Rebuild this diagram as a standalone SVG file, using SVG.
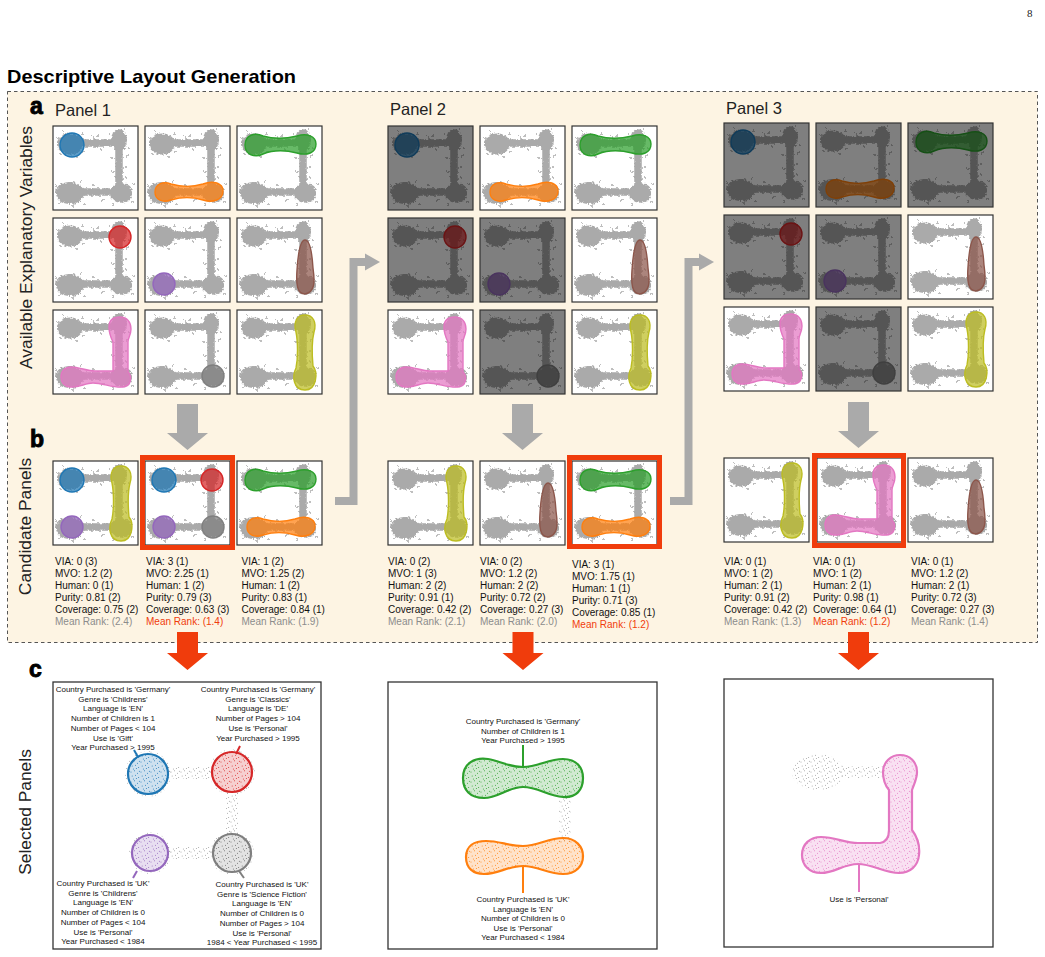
<svg xmlns="http://www.w3.org/2000/svg" xmlns:xlink="http://www.w3.org/1999/xlink" width="1045" height="957" viewBox="0 0 1045 957">
<style>
text{font-family:"Liberation Sans",Arial,sans-serif;fill:#222}
.ttl{font-size:19px;font-weight:bold;fill:#000}
.big{font-size:23px;font-weight:bold;fill:#000;stroke:#000;stroke-width:0.9}
.pl{font-size:16.5px}
.rot{font-size:17.4px;text-anchor:middle}
.m{font-size:10px;fill:#111}
.mg{fill:#8c8c8c}
.mr{fill:#f03c0c}
.lb{font-size:8px;text-anchor:middle;fill:#111}
.tb{fill:#fff}
.tk{fill:none;stroke:#333;stroke-width:1.2}
.dk{fill:#000;fill-opacity:.5}
.sh{fill-opacity:.72;stroke-width:1.4}
.cb{fill:#1f77b4;stroke:#1f77b4}
.co{fill:#ff7f0e;stroke:#ff7f0e}
.cg{fill:#2ca02c;stroke:#2ca02c}
.cr{fill:#d62728;stroke:#d62728}
.cp{fill:#9467bd;stroke:#9467bd}
.cn{fill:#8c564b;stroke:#8c564b}
.ck{fill:#e377c2;stroke:#e377c2}
.cy{fill:#7f7f7f;stroke:#7f7f7f}
.cl{fill:#bcbd22;stroke:#bcbd22}
.sel{fill:none;stroke:#f03c0c;stroke-width:5}
.garr{fill:#aaa}
.gl{fill:none;stroke:#aaa;stroke-width:8}
.rarr{fill:#f03c0c}
.pan{fill:#fff;stroke:#333;stroke-width:1.3}
.big-sh{stroke-width:2.2;fill:none}
.ld{stroke-width:2;fill:none}
</style>
<defs>
<filter id="rough" x="-15%" y="-15%" width="130%" height="130%">
<feTurbulence type="fractalNoise" baseFrequency="0.4" numOctaves="2" seed="3" result="n"/>
<feDisplacementMap in="SourceGraphic" in2="n" scale="4" xChannelSelector="R" yChannelSelector="G"/>
</filter>
<g id="sc" filter="url(#rough)" fill="#aaa">
<path d="M14,17 H66 V66 M14,66 H74" stroke="#aaa" stroke-width="7.5" fill="none" stroke-linecap="round"/>
<ellipse cx="17" cy="18" rx="13" ry="10.5"/>
<ellipse cx="66" cy="14" rx="8" ry="11"/>
<ellipse cx="17" cy="67" rx="14" ry="11"/>
<ellipse cx="68" cy="67" rx="11" ry="10"/>
<g>
<circle cx="5" cy="12" r="1"/><circle cx="8" cy="28" r="1"/><circle cx="29" cy="8" r="1"/><circle cx="31" cy="26" r="1"/><circle cx="40" cy="11" r="1"/><circle cx="48" cy="23" r="1"/><circle cx="56" cy="8" r="1"/><circle cx="72" cy="3" r="1"/><circle cx="76" cy="22" r="1"/><circle cx="74" cy="30" r="1"/><circle cx="59" cy="32" r="1"/><circle cx="73" cy="41" r="1"/><circle cx="60" cy="46" r="1"/><circle cx="73" cy="52" r="1"/><circle cx="3" cy="60" r="1"/><circle cx="6" cy="77" r="1"/><circle cx="28" cy="56" r="1"/><circle cx="31" cy="78" r="1"/><circle cx="40" cy="59" r="1"/><circle cx="50" cy="74" r="1"/><circle cx="80" cy="58" r="1"/><circle cx="80" cy="76" r="1"/><circle cx="60" cy="79" r="1"/><circle cx="45" cy="10" r="1"/><circle cx="24" cy="31" r="1"/><circle cx="10" cy="5" r="1"/><circle cx="20" cy="80" r="1"/>
</g>
</g>
<circle id="s-blue" cx="19" cy="19" r="12"/>
<circle id="s-red" cx="67" cy="19" r="11"/>
<circle id="s-purple" cx="19" cy="66" r="11"/>
<circle id="s-gray" cx="68" cy="66" r="11"/>
<path id="s-orange" d="M10,66 C10,58 18,55 26,58 C36,61 48,61 58,58 C68,54 78,57 78,65 C78,74 68,77 58,74 C48,71 36,71 26,74 C18,77 10,74 10,66 Z"/>
<path id="s-green" d="M8,19 C8,9 18,6 26,10 C36,13 48,13 60,10 C70,7 79,10 79,18 C79,27 70,30 60,27 C48,24 36,24 26,28 C18,32 8,29 8,19 Z"/>
<path id="s-brown" d="M68,22 C73,22 75,34 76,50 C78,64 78,74 68,76 C60,76 59,66 60,52 C61,36 63,22 68,22 Z"/>
<path id="s-olive" d="M68,5 C76,5 80,12 77,22 C75,30 75,45 76,56 C81,62 80,80 68,80 C56,80 55,66 59,58 C61,48 61,32 59,22 C56,12 60,5 68,5 Z"/>
<path id="s-pink" d="M56,17 C56,9 62,7 67,7 C74,7 78,12 78,19 C78,25 75,28 75,32 L75,62 C79,66 79,76 70,77 C60,78 50,73 40,73 C32,73 26,78 17,77 C10,76 8,71 8,67 C8,61 12,57 18,57 C26,57 34,61 42,61 L60,61 L60,32 C58,28 56,24 56,17 Z"/>
<path id="g2p" d="M463,778 C463,763 475,757 488,759 C500,761 508,767 523,767 C538,767 548,759 563,759 C577,759 583,768 583,778 C583,790 576,798 563,797 C548,796 538,787 523,787 C508,787 498,798 484,798 C470,798 463,790 463,778 Z"/>
<path id="o2p" d="M466,857 C466,846 474,841 486,841 C500,841 508,846 523,846 C538,846 548,838 563,838 C576,838 583,847 583,856 C583,866 576,874 563,874 C548,874 538,866 523,866 C508,866 498,874 484,874 C473,874 466,868 466,857 Z"/>
<path id="k3p" d="M889,790 C884,784 883,779 883,772 C883,762 891,755 900,755 C910,755 917,762 917,772 C917,779 914,784 912,790 L912,830 C918,838 920,846 919,855 C918,866 910,873 899,873 C885,873 872,864 858,864 C843,864 835,873 821,873 C809,873 802,865 802,855 C802,844 810,837 821,837 C835,837 845,843 858,843 L880,843 C886,842 889,838 889,830 Z"/>
<g id="dt">
<circle cx="1" cy="2" r="0.5"/><circle cx="4.5" cy="0.8" r="0.5"/><circle cx="7.5" cy="3.2" r="0.5"/><circle cx="2.2" cy="6" r="0.5"/><circle cx="5.5" cy="5.2" r="0.5"/><circle cx="8.6" cy="7.4" r="0.5"/><circle cx="3.4" cy="9" r="0.5"/><circle cx="6.4" cy="8.6" r="0.5"/><circle cx="9.4" cy="1.2" r="0.5"/>
</g>
<pattern id="pgr" width="10" height="10" patternUnits="userSpaceOnUse"><use href="#dt" fill="#9a9a9a"/></pattern>
<pattern id="pbl" width="10" height="10" patternUnits="userSpaceOnUse"><use href="#dt" fill="#1f77b4"/></pattern>
<pattern id="pre" width="10" height="10" patternUnits="userSpaceOnUse"><use href="#dt" fill="#d62728"/></pattern>
<pattern id="ppu" width="10" height="10" patternUnits="userSpaceOnUse"><use href="#dt" fill="#9467bd"/></pattern>
<pattern id="pdk" width="10" height="10" patternUnits="userSpaceOnUse"><use href="#dt" fill="#666"/></pattern>
<pattern id="pgn" width="10" height="10" patternUnits="userSpaceOnUse"><use href="#dt" fill="#2ca02c"/></pattern>
<pattern id="por" width="10" height="10" patternUnits="userSpaceOnUse"><use href="#dt" fill="#ff7f0e"/></pattern>
<pattern id="ppk" width="10" height="10" patternUnits="userSpaceOnUse"><use href="#dt" fill="#e377c2"/></pattern>
</defs>

<rect width="1045" height="957" fill="#fff"/>
<text x="1027" y="17" style="font-family:'Liberation Serif',serif;font-size:11px">8</text>
<text class="ttl" x="7" y="83" textLength="289" lengthAdjust="spacingAndGlyphs">Descriptive Layout Generation</text>
<rect x="7.5" y="91.5" width="1030" height="551" fill="#fdf4e3" stroke="#555" stroke-width="1" stroke-dasharray="3.5 3"/>

<text class="big" x="30" y="114">a</text>
<text class="big" x="30" y="447">b</text>
<text class="big" x="29" y="677">c</text>
<text class="pl" x="55" y="116">Panel 1</text>
<text class="pl" x="390" y="115">Panel 2</text>
<text class="pl" x="726" y="114">Panel 3</text>
<text class="rot" transform="translate(32,247.5) rotate(-90)">Available Explanatory Variables</text>
<text class="rot" transform="translate(31,526.5) rotate(-90)">Candidate Panels</text>
<text class="rot" transform="translate(31,812) rotate(-90)">Selected Panels</text>

<g id="connectors">
<path class="garr" d="M177,404 H198 V433 H208 L187.5,450 L167,433 H177 Z"/>
<path class="garr" d="M512,404 H533 V433 H543 L522.5,450 L502,433 H512 Z"/>
<path class="garr" d="M848,402 H869 V431 H879 L858.5,448 L838,431 H848 Z"/>
<path class="gl" d="M335,501 H353.5 V262 H367"/>
<path class="garr" d="M365,253.5 L380,262 L365,270.5 Z"/>
<path class="gl" d="M670,501 H688.5 V262 H701"/>
<path class="garr" d="M699,253.5 L714,262 L699,270.5 Z"/>
<path class="rarr" d="M177,632 H198 V653 H208 L187.5,670 L167,653 H177 Z"/>
<path class="rarr" d="M512.5,632 H533.5 V653 H543.5 L523,670 L502.5,653 H512.5 Z"/>
<path class="rarr" d="M848,632 H869 V653 H879 L858.5,670 L838,653 H848 Z"/>
</g>

<g id="panel1-grid">
<g id="p1-a1" transform="translate(53,126)"><rect class="tb" width="85" height="84"/><use href="#sc"/><use href="#s-blue" class="sh cb"/><rect class="tk" width="85" height="84"/></g>
<g id="p1-a2" transform="translate(145,126)"><rect class="tb" width="85" height="84"/><use href="#sc"/><use href="#s-orange" class="sh co"/><rect class="tk" width="85" height="84"/></g>
<g id="p1-a3" transform="translate(237,126)"><rect class="tb" width="85" height="84"/><use href="#sc"/><use href="#s-green" class="sh cg"/><rect class="tk" width="85" height="84"/></g>
<g id="p1-b1" transform="translate(53,218)"><rect class="tb" width="85" height="84"/><use href="#sc"/><use href="#s-red" class="sh cr"/><rect class="tk" width="85" height="84"/></g>
<g id="p1-b2" transform="translate(145,218)"><rect class="tb" width="85" height="84"/><use href="#sc"/><use href="#s-purple" class="sh cp"/><rect class="tk" width="85" height="84"/></g>
<g id="p1-b3" transform="translate(237,218)"><rect class="tb" width="85" height="84"/><use href="#sc"/><use href="#s-brown" class="sh cn"/><rect class="tk" width="85" height="84"/></g>
<g id="p1-c1" transform="translate(53,310)"><rect class="tb" width="85" height="84"/><use href="#sc"/><use href="#s-pink" class="sh ck"/><rect class="tk" width="85" height="84"/></g>
<g id="p1-c2" transform="translate(145,310)"><rect class="tb" width="85" height="84"/><use href="#sc"/><use href="#s-gray" class="sh cy"/><rect class="tk" width="85" height="84"/></g>
<g id="p1-c3" transform="translate(237,310)"><rect class="tb" width="85" height="84"/><use href="#sc"/><use href="#s-olive" class="sh cl"/><rect class="tk" width="85" height="84"/></g>
</g>

<g id="panel2-grid">
<g id="p2-a1" transform="translate(388,126)"><rect class="tb" width="85" height="84"/><use href="#sc"/><use href="#s-blue" class="sh cb"/><rect class="dk" width="85" height="84"/><rect class="tk" width="85" height="84"/></g>
<g id="p2-a2" transform="translate(480,126)"><rect class="tb" width="85" height="84"/><use href="#sc"/><use href="#s-orange" class="sh co"/><rect class="tk" width="85" height="84"/></g>
<g id="p2-a3" transform="translate(572,126)"><rect class="tb" width="85" height="84"/><use href="#sc"/><use href="#s-green" class="sh cg"/><rect class="tk" width="85" height="84"/></g>
<g id="p2-b1" transform="translate(388,218)"><rect class="tb" width="85" height="84"/><use href="#sc"/><use href="#s-red" class="sh cr"/><rect class="dk" width="85" height="84"/><rect class="tk" width="85" height="84"/></g>
<g id="p2-b2" transform="translate(480,218)"><rect class="tb" width="85" height="84"/><use href="#sc"/><use href="#s-purple" class="sh cp"/><rect class="dk" width="85" height="84"/><rect class="tk" width="85" height="84"/></g>
<g id="p2-b3" transform="translate(572,218)"><rect class="tb" width="85" height="84"/><use href="#sc"/><use href="#s-brown" class="sh cn"/><rect class="tk" width="85" height="84"/></g>
<g id="p2-c1" transform="translate(388,310)"><rect class="tb" width="85" height="84"/><use href="#sc"/><use href="#s-pink" class="sh ck"/><rect class="tk" width="85" height="84"/></g>
<g id="p2-c2" transform="translate(480,310)"><rect class="tb" width="85" height="84"/><use href="#sc"/><use href="#s-gray" class="sh cy"/><rect class="dk" width="85" height="84"/><rect class="tk" width="85" height="84"/></g>
<g id="p2-c3" transform="translate(572,310)"><rect class="tb" width="85" height="84"/><use href="#sc"/><use href="#s-olive" class="sh cl"/><rect class="tk" width="85" height="84"/></g>
</g>

<g id="panel3-grid">
<g id="p3-a1" transform="translate(724,123)"><rect class="tb" width="85" height="84"/><use href="#sc"/><use href="#s-blue" class="sh cb"/><rect class="dk" width="85" height="84"/><rect class="tk" width="85" height="84"/></g>
<g id="p3-a2" transform="translate(816,123)"><rect class="tb" width="85" height="84"/><use href="#sc"/><use href="#s-orange" class="sh co"/><rect class="dk" width="85" height="84"/><rect class="tk" width="85" height="84"/></g>
<g id="p3-a3" transform="translate(908,123)"><rect class="tb" width="85" height="84"/><use href="#sc"/><use href="#s-green" class="sh cg"/><rect class="dk" width="85" height="84"/><rect class="tk" width="85" height="84"/></g>
<g id="p3-b1" transform="translate(724,215)"><rect class="tb" width="85" height="84"/><use href="#sc"/><use href="#s-red" class="sh cr"/><rect class="dk" width="85" height="84"/><rect class="tk" width="85" height="84"/></g>
<g id="p3-b2" transform="translate(816,215)"><rect class="tb" width="85" height="84"/><use href="#sc"/><use href="#s-purple" class="sh cp"/><rect class="dk" width="85" height="84"/><rect class="tk" width="85" height="84"/></g>
<g id="p3-b3" transform="translate(908,215)"><rect class="tb" width="85" height="84"/><use href="#sc"/><use href="#s-brown" class="sh cn"/><rect class="tk" width="85" height="84"/></g>
<g id="p3-c1" transform="translate(724,307)"><rect class="tb" width="85" height="84"/><use href="#sc"/><use href="#s-pink" class="sh ck"/><rect class="tk" width="85" height="84"/></g>
<g id="p3-c2" transform="translate(816,307)"><rect class="tb" width="85" height="84"/><use href="#sc"/><use href="#s-gray" class="sh cy"/><rect class="dk" width="85" height="84"/><rect class="tk" width="85" height="84"/></g>
<g id="p3-c3" transform="translate(908,307)"><rect class="tb" width="85" height="84"/><use href="#sc"/><use href="#s-olive" class="sh cl"/><rect class="tk" width="85" height="84"/></g>
</g>

<g id="cand1-1" transform="translate(53,461)"><rect class="tb" width="85" height="84"/><use href="#sc"/><use href="#s-blue" class="sh cb"/><use href="#s-olive" class="sh cl"/><use href="#s-purple" class="sh cp"/><rect class="tk" width="85" height="84"/></g>
<g id="cand1-2" transform="translate(145,461)"><rect class="tb" width="85" height="84"/><use href="#sc"/><use href="#s-blue" class="sh cb"/><use href="#s-red" class="sh cr"/><use href="#s-purple" class="sh cp"/><use href="#s-gray" class="sh cy"/><rect class="tk" width="85" height="84"/></g>
<rect class="sel" x="142.5" y="457.5" width="90" height="90"/>
<g id="cand1-3" transform="translate(237,461)"><rect class="tb" width="85" height="84"/><use href="#sc"/><use href="#s-green" class="sh cg"/><use href="#s-orange" class="sh co"/><rect class="tk" width="85" height="84"/></g>

<g id="cand2-1" transform="translate(388,461)"><rect class="tb" width="85" height="84"/><use href="#sc"/><use href="#s-olive" class="sh cl"/><rect class="tk" width="85" height="84"/></g>
<g id="cand2-2" transform="translate(480,461)"><rect class="tb" width="85" height="84"/><use href="#sc"/><use href="#s-brown" class="sh cn"/><rect class="tk" width="85" height="84"/></g>
<g id="cand2-3" transform="translate(572,461)"><rect class="tb" width="85" height="84"/><use href="#sc"/><use href="#s-green" class="sh cg"/><use href="#s-orange" class="sh co"/><rect class="tk" width="85" height="84"/></g>
<rect class="sel" x="569.5" y="457.5" width="90" height="89"/>

<g id="cand3-1" transform="translate(724,458)"><rect class="tb" width="85" height="84"/><use href="#sc"/><use href="#s-olive" class="sh cl"/><rect class="tk" width="85" height="84"/></g>
<g id="cand3-2" transform="translate(817,458)"><rect class="tb" width="85" height="84"/><use href="#sc"/><use href="#s-pink" class="sh ck"/><rect class="tk" width="85" height="84"/></g>
<rect class="sel" x="814.5" y="455.5" width="89" height="90"/>
<g id="cand3-3" transform="translate(908,458)"><rect class="tb" width="85" height="84"/><use href="#sc"/><use href="#s-brown" class="sh cn"/><rect class="tk" width="85" height="84"/></g>

<g id="metrics">
<text class="m" y="565"><tspan x="55">VIA: 0 (3)</tspan><tspan x="55" dy="12">MVO: 1.2 (2)</tspan><tspan x="55" dy="12">Human: 0 (1)</tspan><tspan x="55" dy="12">Purity: 0.81 (2)</tspan><tspan x="55" dy="12">Coverage: 0.75 (2)</tspan><tspan x="55" dy="12" class="mg">Mean Rank: (2.4)</tspan></text>
<text class="m" y="565"><tspan x="146">VIA: 3 (1)</tspan><tspan x="146" dy="12">MVO: 2.25 (1)</tspan><tspan x="146" dy="12">Human: 1 (2)</tspan><tspan x="146" dy="12">Purity: 0.79 (3)</tspan><tspan x="146" dy="12">Coverage: 0.63 (3)</tspan><tspan x="146" dy="12" class="mr">Mean Rank: (1.4)</tspan></text>
<text class="m" y="565"><tspan x="241.5">VIA: 1 (2)</tspan><tspan x="241.5" dy="12">MVO: 1.25 (2)</tspan><tspan x="241.5" dy="12">Human: 1 (2)</tspan><tspan x="241.5" dy="12">Purity: 0.83 (1)</tspan><tspan x="241.5" dy="12">Coverage: 0.84 (1)</tspan><tspan x="241.5" dy="12" class="mg">Mean Rank: (1.9)</tspan></text>
<text class="m" y="565"><tspan x="388">VIA: 0 (2)</tspan><tspan x="388" dy="12">MVO: 1 (3)</tspan><tspan x="388" dy="12">Human: 2 (2)</tspan><tspan x="388" dy="12">Purity: 0.91 (1)</tspan><tspan x="388" dy="12">Coverage: 0.42 (2)</tspan><tspan x="388" dy="12" class="mg">Mean Rank: (2.1)</tspan></text>
<text class="m" y="565"><tspan x="480">VIA: 0 (2)</tspan><tspan x="480" dy="12">MVO: 1.2 (2)</tspan><tspan x="480" dy="12">Human: 2 (2)</tspan><tspan x="480" dy="12">Purity: 0.72 (2)</tspan><tspan x="480" dy="12">Coverage: 0.27 (3)</tspan><tspan x="480" dy="12" class="mg">Mean Rank: (2.0)</tspan></text>
<text class="m" y="567.5"><tspan x="572">VIA: 3 (1)</tspan><tspan x="572" dy="12">MVO: 1.75 (1)</tspan><tspan x="572" dy="12">Human: 1 (1)</tspan><tspan x="572" dy="12">Purity: 0.71 (3)</tspan><tspan x="572" dy="12">Coverage: 0.85 (1)</tspan><tspan x="572" dy="12" class="mr">Mean Rank: (1.2)</tspan></text>
<text class="m" y="565"><tspan x="724">VIA: 0 (1)</tspan><tspan x="724" dy="12">MVO: 1 (2)</tspan><tspan x="724" dy="12">Human: 2 (1)</tspan><tspan x="724" dy="12">Purity: 0.91 (2)</tspan><tspan x="724" dy="12">Coverage: 0.42 (2)</tspan><tspan x="724" dy="12" class="mg">Mean Rank: (1.3)</tspan></text>
<text class="m" y="565"><tspan x="813">VIA: 0 (1)</tspan><tspan x="813" dy="12">MVO: 1 (2)</tspan><tspan x="813" dy="12">Human: 2 (1)</tspan><tspan x="813" dy="12">Purity: 0.98 (1)</tspan><tspan x="813" dy="12">Coverage: 0.64 (1)</tspan><tspan x="813" dy="12" class="mr">Mean Rank: (1.2)</tspan></text>
<text class="m" y="565"><tspan x="911">VIA: 0 (1)</tspan><tspan x="911" dy="12">MVO: 1.2 (2)</tspan><tspan x="911" dy="12">Human: 2 (1)</tspan><tspan x="911" dy="12">Purity: 0.72 (3)</tspan><tspan x="911" dy="12">Coverage: 0.27 (3)</tspan><tspan x="911" dy="12" class="mg">Mean Rank: (1.4)</tspan></text>
</g>

<g id="selected1">
<rect class="pan" x="53" y="682" width="268" height="267"/>
<path d="M166,767 H214 V779 H166 Z M226,790 H238 V838 H226 Z M167,847 H213 V859 H167 Z" fill="url(#pgr)"/>
<circle cx="148" cy="774" r="23" fill="url(#pgr)"/>
<circle cx="232" cy="772" r="23" fill="url(#pgr)"/>
<circle cx="150" cy="853" r="21" fill="url(#pgr)"/>
<circle cx="232" cy="853" r="22" fill="url(#pgr)"/>
<circle cx="148" cy="774" r="20" fill="#fff"/><circle cx="148" cy="774" r="20" fill="#1f77b4" fill-opacity=".22"/><circle cx="148" cy="774" r="20" fill="url(#pbl)"/><circle cx="148" cy="774" r="20" class="cb big-sh"/>
<circle cx="232" cy="772" r="20" fill="#fff"/><circle cx="232" cy="772" r="20" fill="#d62728" fill-opacity=".22"/><circle cx="232" cy="772" r="20" fill="url(#pre)"/><circle cx="232" cy="772" r="20" class="cr big-sh"/>
<circle cx="150" cy="853" r="18" fill="#fff"/><circle cx="150" cy="853" r="18" fill="#9467bd" fill-opacity=".22"/><circle cx="150" cy="853" r="18" fill="url(#ppu)"/><circle cx="150" cy="853" r="18" class="cp big-sh"/>
<circle cx="232" cy="853" r="19" fill="#fff"/><circle cx="232" cy="853" r="19" fill="#7f7f7f" fill-opacity=".22"/><circle cx="232" cy="853" r="19" fill="url(#pdk)"/><circle cx="232" cy="853" r="19" class="cy big-sh"/>
<path d="M134,750 L138,757" class="cb ld"/>
<path d="M240,746 L236,754" class="cr ld"/>
<path d="M137,871 L133,878" class="cp ld"/>
<path d="M239,871 L244,878" class="cy ld"/>
<text class="lb" y="692"><tspan x="113">Country Purchased is 'Germany'</tspan><tspan x="113" dy="9.7">Genre is 'Childrens'</tspan><tspan x="113" dy="9.7">Language is 'EN'</tspan><tspan x="113" dy="9.7">Number of Children is 1</tspan><tspan x="113" dy="9.7">Number of Pages &lt; 104</tspan><tspan x="113" dy="9.7">Use is 'Gift'</tspan><tspan x="113" dy="9.7">Year Purchased &gt; 1995</tspan></text>
<text class="lb" y="692"><tspan x="258">Country Purchased is 'Germany'</tspan><tspan x="258" dy="9.7">Genre is 'Classics'</tspan><tspan x="258" dy="9.7">Language is 'DE'</tspan><tspan x="258" dy="9.7">Number of Pages &gt; 104</tspan><tspan x="258" dy="9.7">Use is 'Personal'</tspan><tspan x="258" dy="9.7">Year Purchased &gt; 1995</tspan></text>
<text class="lb" y="886"><tspan x="103">Country Purchased is 'UK'</tspan><tspan x="103" dy="9.7">Genre is 'Childrens'</tspan><tspan x="103" dy="9.7">Language is 'EN'</tspan><tspan x="103" dy="9.7">Number of Children is 0</tspan><tspan x="103" dy="9.7">Number of Pages &lt; 104</tspan><tspan x="103" dy="9.7">Use is 'Personal'</tspan><tspan x="103" dy="9.7">Year Purchased &lt; 1984</tspan></text>
<text class="lb" y="887"><tspan x="262">Country Purchased is 'UK'</tspan><tspan x="262" dy="9.7">Genre is 'Science Fiction'</tspan><tspan x="262" dy="9.7">Language is 'EN'</tspan><tspan x="262" dy="9.7">Number of Children is 0</tspan><tspan x="262" dy="9.7">Number of Pages &gt; 104</tspan><tspan x="262" dy="9.7">Use is 'Personal'</tspan><tspan x="262" dy="9.7">1984 &lt; Year Purchased &lt; 1995</tspan></text>
</g>

<g id="selected2">
<rect class="pan" x="388" y="682" width="269" height="267"/>
<path d="M559,795 H571 V842 H559 Z" fill="url(#pgr)"/>
<use href="#g2p" fill="#2ca02c" fill-opacity=".22"/>
<use href="#g2p" fill="url(#pgn)"/>
<use href="#g2p" class="cg big-sh"/>
<use href="#o2p" fill="#ff7f0e" fill-opacity=".22"/>
<use href="#o2p" fill="url(#por)"/>
<use href="#o2p" class="co big-sh"/>
<path d="M523,745 V767" class="cg ld"/>
<path d="M523,866 V893" class="co ld"/>
<text class="lb" y="724"><tspan x="523">Country Purchased is 'Germany'</tspan><tspan x="523" dy="9.6">Number of Children is 1</tspan><tspan x="523" dy="9.6">Year Purchased &gt; 1995</tspan></text>
<text class="lb" y="902"><tspan x="523">Country Purchased is 'UK'</tspan><tspan x="523" dy="9.6">Language is 'EN'</tspan><tspan x="523" dy="9.6">Number of Children is 0</tspan><tspan x="523" dy="9.6">Use is 'Personal'</tspan><tspan x="523" dy="9.6">Year Purchased &lt; 1984</tspan></text>
</g>

<g id="selected3">
<rect class="pan" x="724" y="679" width="269" height="268"/>
<ellipse cx="818" cy="772" rx="26" ry="18" fill="url(#pgr)"/>
<path d="M840,766 H888 V778 H840 Z" fill="url(#pgr)"/>
<use href="#k3p" fill="#fff"/>
<use href="#k3p" fill="#e377c2" fill-opacity=".22"/>
<use href="#k3p" fill="url(#ppk)"/>
<use href="#k3p" class="ck big-sh"/>
<path d="M859,864 V892" class="ck ld"/>
<text class="lb" x="859" y="902">Use is 'Personal'</text>
</g>
</svg>
